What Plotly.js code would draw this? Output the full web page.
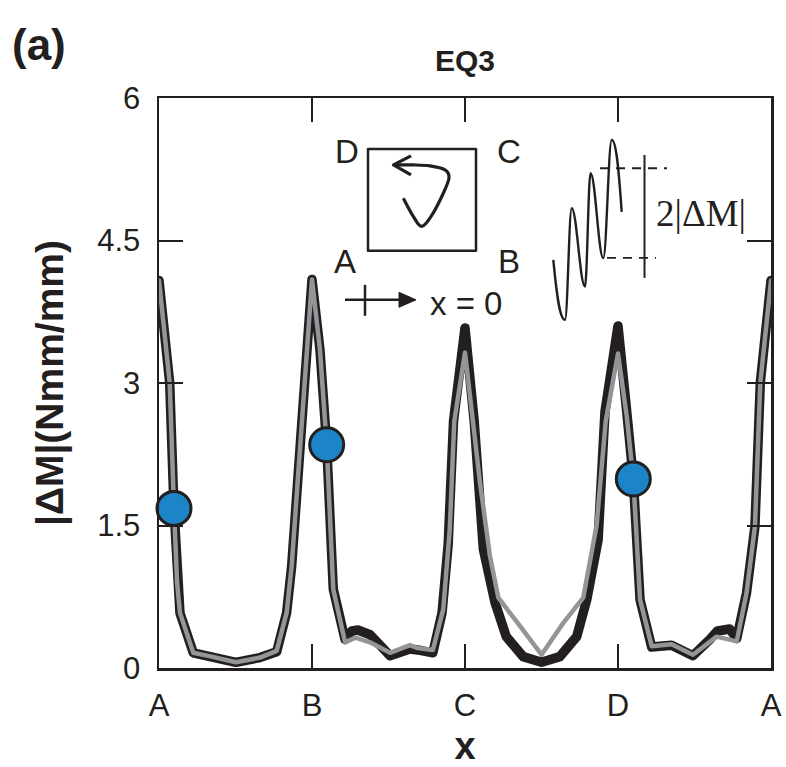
<!DOCTYPE html>
<html>
<head>
<meta charset="utf-8">
<script src="https://cdn.plot.ly/plotly-3.0.1.min.js"></script>
<style>
  html, body { margin: 0; padding: 0; background: #fff; }
  #chart { width: 786px; height: 767px; }
  .js-line { stroke-linejoin: round; stroke-linecap: round; }
  .shapelayer path { stroke-linejoin: round; stroke-linecap: butt; }
</style>
</head>
<body>
<div id="chart"></div>
<script>
// ---------------- DATA ----------------
const tickPositions = [0, 1, 2, 3, 4];
const tickLabels = ['A', 'B', 'C', 'D', 'A'];
const yTicks = [0, 1.5, 3, 4.5, 6];
const yTickLabels = ['0', '1.5', '3', '4.5', '6'];

// thick black series
const blackX = [0, 0.07, 0.098, 0.118, 0.137, 0.224, 0.344, 0.503, 0.66, 0.769, 0.834, 0.867, 1.0,
  1.052, 1.096, 1.139, 1.216, 1.26, 1.30, 1.38, 1.51, 1.64, 1.69, 1.79, 1.85, 1.89, 1.925, 2.0,
  2.06, 2.12, 2.196, 2.27, 2.38, 2.5, 2.62, 2.73, 2.796, 2.87, 2.915, 3.0,
  3.057, 3.1, 3.144, 3.22, 3.35, 3.49, 3.60, 3.65, 3.73, 3.776, 3.84, 3.895, 3.93, 4.0];
const blackY = [4.08, 3.0, 1.68, 0.9, 0.58, 0.16, 0.11, 0.06, 0.11, 0.17, 0.58, 1.07, 4.09,
  3.35, 2.35, 0.83, 0.30, 0.39, 0.40, 0.35, 0.13, 0.20, 0.19, 0.16, 0.58, 1.3, 2.6, 3.58,
  2.6, 1.25, 0.69, 0.33, 0.12, 0.06, 0.12, 0.33, 0.72, 1.35, 2.7, 3.6,
  2.7, 1.99, 0.72, 0.22, 0.24, 0.13, 0.30, 0.39, 0.41, 0.31, 0.79, 1.49, 3.0, 4.08];

// thin grey series
const greyX = [0, 0.07, 0.098, 0.118, 0.137, 0.224, 0.344, 0.503, 0.66, 0.769, 0.834, 0.867, 1.0,
  1.052, 1.096, 1.139, 1.216, 1.284, 1.379, 1.51, 1.64, 1.69, 1.79, 1.858, 1.90, 1.93, 2.0,
  2.06, 2.098, 2.163, 2.218, 2.36, 2.5, 2.643, 2.773, 2.86, 2.92, 3.0,
  3.057, 3.1, 3.144, 3.22, 3.35, 3.49, 3.645, 3.776, 3.84, 3.895, 3.93, 4.0];
const greyY = [4.08, 3.0, 1.68, 0.9, 0.58, 0.16, 0.12, 0.06, 0.11, 0.18, 0.58, 1.07, 4.09,
  3.35, 2.35, 0.83, 0.27, 0.32, 0.27, 0.16, 0.24, 0.21, 0.19, 0.62, 1.45, 2.6, 3.32,
  2.5, 1.95, 1.18, 0.74, 0.44, 0.14, 0.475, 0.74, 1.5, 2.6, 3.31,
  2.65, 1.99, 0.72, 0.23, 0.25, 0.14, 0.33, 0.28, 0.79, 1.49, 3.0, 4.08];

// highlighted points
const dotX = [0.098, 1.096, 3.1];
const dotY = [1.68, 2.35, 1.99];

// ---------------- STYLE ----------------
const INK = '#231f20';
const GREY = '#939598';
const BLUE = '#1b85c8';
const FONT = 'Liberation Sans, Arial, Helvetica, sans-serif';

// plot-area pixel frame (for the decorative inset drawn in axis units)
const L = 159, R = 771, T = 98, B = 668.5, W = 786, H = 767;
const XR = [0, 4], YR = [0, 6];
function dx(px) { return XR[0] + (px - L) / (R - L) * (XR[1] - XR[0]); }
function dy(py) { return YR[0] + (B - py) / (B - T) * (YR[1] - YR[0]); }
function P(px, py) { return dx(px).toFixed(4) + ',' + dy(py).toFixed(4); }

// smooth path through points (Catmull-Rom -> cubic Bezier)
function smoothPath(pts) {
  let d = 'M' + P(pts[0][0], pts[0][1]);
  for (let i = 0; i < pts.length - 1; i++) {
    const p0 = pts[Math.max(0, i - 1)], p1 = pts[i], p2 = pts[i + 1], p3 = pts[Math.min(pts.length - 1, i + 2)];
    const c1 = [p1[0] + (p2[0] - p0[0]) / 6, p1[1] + (p2[1] - p0[1]) / 6];
    const c2 = [p2[0] - (p3[0] - p1[0]) / 6, p2[1] - (p3[1] - p1[1]) / 6];
    d += ' C' + P(c1[0], c1[1]) + ' ' + P(c2[0], c2[1]) + ' ' + P(p2[0], p2[1]);
  }
  return d;
}
// wave with horizontal tangents at extremes
function wavePath(start, ext, end) {
  let d = 'M' + P(start[0], start[1]);
  const k = 0.38;
  d += ' C' + P(start[0] + (ext[0][0] - start[0]) * 0.3, start[1] + (ext[0][1] - start[1]) * 0.6) + ' ' +
       P(ext[0][0] - (ext[0][0] - start[0]) * 0.45, ext[0][1]) + ' ' + P(ext[0][0], ext[0][1]);
  for (let i = 0; i < ext.length - 1; i++) {
    const a = ext[i], b = ext[i + 1], w = b[0] - a[0];
    d += ' C' + P(a[0] + k * w, a[1]) + ' ' + P(b[0] - k * w, b[1]) + ' ' + P(b[0], b[1]);
  }
  const a = ext[ext.length - 1];
  d += ' C' + P(a[0] + (end[0] - a[0]) * 0.45, a[1]) + ' ' +
       P(end[0] - (end[0] - a[0]) * 0.3, end[1] - (end[1] - a[1]) * 0.6) + ' ' + P(end[0], end[1]);
  return d;
}

const lineStyle = { color: INK, width: 2.5 };
const shapes = [
  // square loop box
  { type: 'rect', xref: 'x', yref: 'y', x0: dx(368), x1: dx(476), y0: dy(149), y1: dy(251), line: lineStyle },
  // loop arrow
  { type: 'path', xref: 'x', yref: 'y', line: { color: INK, width: 3.2 },
    path: smoothPath([[403.3, 198.3], [413, 216], [421.7, 226.5], [432, 215], [443.3, 193.3], [449, 178], [445, 170], [430, 166], [413.3, 165], [393.5, 165]]) },
  { type: 'path', xref: 'x', yref: 'y', line: { color: INK, width: 3.2 },
    path: 'M' + P(411, 156) + ' L' + P(393.5, 165) + ' L' + P(411, 175) },
  // x = 0 arrow
  { type: 'line', xref: 'x', yref: 'y', x0: dx(345), x1: dx(404), y0: dy(300), y1: dy(300), line: lineStyle },
  { type: 'line', xref: 'x', yref: 'y', x0: dx(365), x1: dx(365), y0: dy(285), y1: dy(316), line: lineStyle },
  { type: 'path', xref: 'x', yref: 'y', fillcolor: INK, line: { color: INK, width: 1 },
    path: 'M' + P(399, 292.5) + ' L' + P(416, 300) + ' L' + P(399, 307.5) + ' Z' },
  // hysteresis wave
  { type: 'path', xref: 'x', yref: 'y', line: { color: INK, width: 2.4 },
    path: wavePath([553.3, 260], [[565, 320], [571.7, 208.3], [585, 286.7], [590.5, 173.3], [603.3, 258.3], [611.7, 140]], [621.7, 212]) },
  // dashed guide lines
  { type: 'line', xref: 'x', yref: 'y', x0: dx(600), x1: dx(667), y0: dy(168.3), y1: dy(168.3), line: { color: INK, width: 1.8, dash: '9px,7px' } },
  { type: 'line', xref: 'x', yref: 'y', x0: dx(607), x1: dx(656), y0: dy(258), y1: dy(258), line: { color: INK, width: 1.8, dash: '9px,7px' } },
  { type: 'line', xref: 'x', yref: 'y', x0: dx(644.5), x1: dx(644.5), y0: dy(155), y1: dy(278), line: { color: INK, width: 2 } }
];

function ann(text, px, py, size, extra) {
  return Object.assign({ text: text, xref: 'x', yref: 'y', x: dx(px), y: dy(py), showarrow: false,
    xanchor: 'center', yanchor: 'middle', font: { family: FONT, size: size, color: INK } }, extra || {});
}
const annotations = [
  ann('D', 347, 152, 33), ann('C', 509, 152, 33), ann('A', 345, 262, 33), ann('B', 509, 262, 33),
  ann('x = 0', 466, 304, 33),
  ann('2|ΔM|', 701, 214, 37, { font: { family: 'Liberation Serif, Times New Roman, serif', size: 37, color: INK } }),
  { text: '<b>(a)</b>', xref: 'paper', yref: 'paper', x: (39 - L) / (R - L), y: (B - 44) / (B - T),
    showarrow: false, xanchor: 'center', yanchor: 'middle', font: { family: FONT, size: 44, color: INK } }
];

const traces = [
  { x: blackX, y: blackY, type: 'scatter', mode: 'lines', line: { color: INK, width: 9.5 }, hoverinfo: 'skip', showlegend: false },
  { x: greyX, y: greyY, type: 'scatter', mode: 'lines', line: { color: GREY, width: 4.5 }, hoverinfo: 'skip', showlegend: false },
  { x: dotX, y: dotY, type: 'scatter', mode: 'markers', cliponaxis: false,
    marker: { color: BLUE, size: 34, line: { color: INK, width: 3 } }, hoverinfo: 'skip', showlegend: false }
];

const axisCommon = {
  showline: true, linecolor: INK, linewidth: 2.5, mirror: 'ticks',
  ticks: 'inside', ticklen: 24, tickwidth: 2, tickcolor: INK,
  showgrid: false, zeroline: false, fixedrange: true,
  tickfont: { family: FONT, size: 31, color: INK }
};

const layout = {
  width: W, height: H,
  margin: { l: L, r: W - R, t: T, b: H - B },
  paper_bgcolor: '#fff', plot_bgcolor: '#fff',
  title: { text: '<b>EQ3</b>', font: { family: FONT, size: 30, color: INK },
    xref: 'paper', x: 0.5, xanchor: 'center', yref: 'container', y: 1 - 60 / H, yanchor: 'middle' },
  xaxis: Object.assign({}, axisCommon, {
    range: XR, tickmode: 'array', tickvals: tickPositions, ticktext: tickLabels, ticklabelstandoff: 8,
    title: { text: '<b>x</b>', font: { family: FONT, size: 38, color: INK }, standoff: 16 }
  }),
  yaxis: Object.assign({}, axisCommon, {
    range: YR, tickmode: 'array', tickvals: yTicks, ticktext: yTickLabels, ticklabelstandoff: 10,
    title: { text: '<b>|ΔM|(Nmm/mm)</b>', font: { family: FONT, size: 39, color: INK }, standoff: 22 }
  }),
  shapes: shapes,
  annotations: annotations
};

Plotly.newPlot('chart', traces, layout, { staticPlot: true, displayModeBar: false });
</script>
</body>
</html>
